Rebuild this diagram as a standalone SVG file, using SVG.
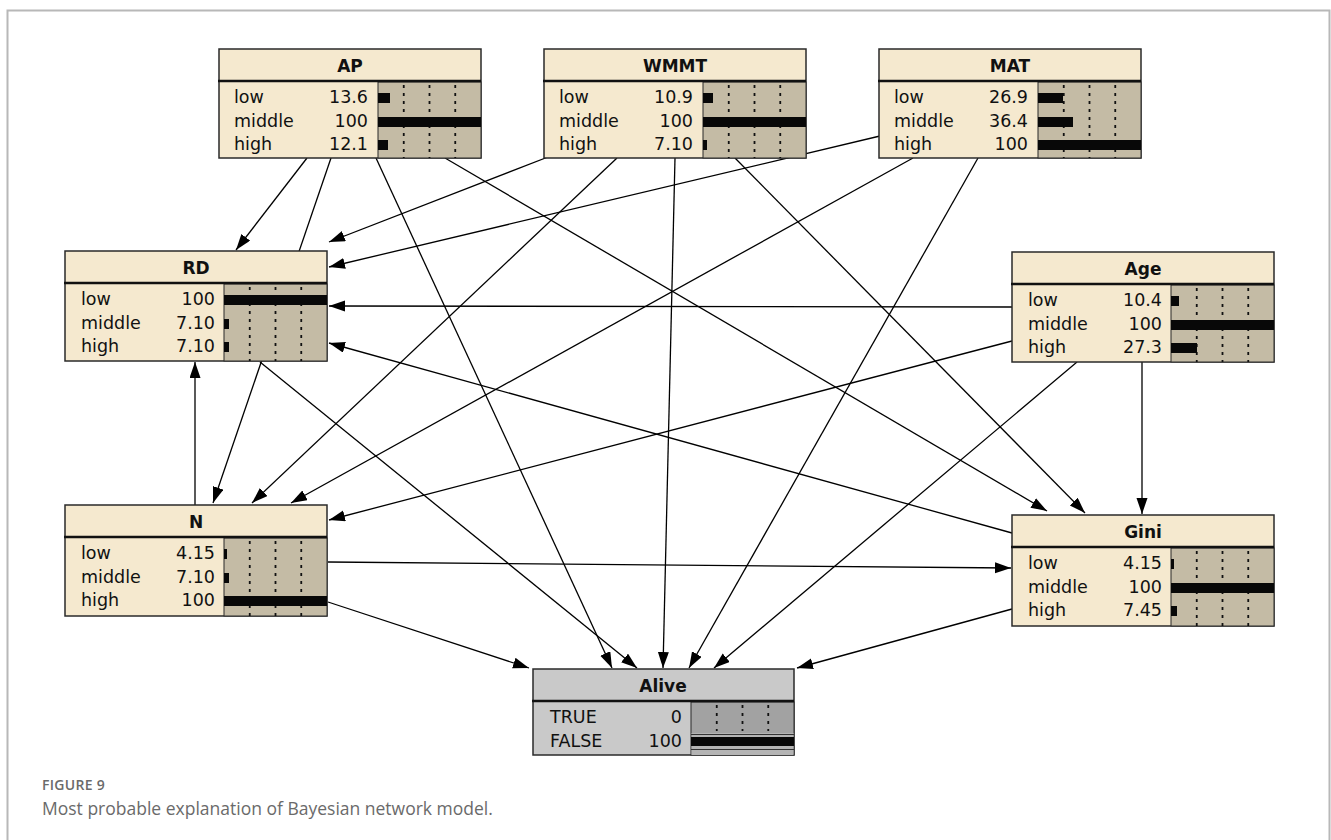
<svg xmlns="http://www.w3.org/2000/svg" width="1331" height="840" viewBox="0 0 1331 840">
<defs>
<marker id="ah" markerUnits="userSpaceOnUse" markerWidth="17" markerHeight="12" refX="16" refY="5.5" orient="auto">
<path d="M0,0 L16,5.5 L0,11 Z" fill="#000"/>
</marker>
<style>
.frame{fill:none;stroke:#b8b8b8;stroke-width:2}
.box{fill:#f5e9cf;stroke:#2a2a2a;stroke-width:1.5}
.gbox{fill:#c9c9c9;stroke:#2a2a2a;stroke-width:1.5}
.div{stroke:#111;stroke-width:2.5}
.barbg{fill:#c4bba5;stroke:#2a2a2a;stroke-width:1}
.gbarbg{fill:#a2a2a2;stroke:#2a2a2a;stroke-width:1}
.tick{stroke:#111;stroke-width:1.8;stroke-dasharray:3 5}
.bar{fill:#080808}
.t{font-family:"DejaVu Sans",sans-serif;font-size:17.5px;fill:#111}
.tt{font-family:"DejaVu Sans",sans-serif;font-size:17px;font-weight:bold;fill:#111;text-anchor:middle}
.v{text-anchor:end}
.edge{stroke:#000;stroke-width:1.3;fill:none;marker-end:url(#ah)}
.cap1{font-family:"Open Sans",sans-serif;font-size:14px;font-weight:600;fill:#6a6a6a;letter-spacing:0.3px}
.cap2{font-family:"Open Sans",sans-serif;font-size:17.5px;fill:#6a6a6a}
</style>
</defs>
<rect width="1331" height="840" fill="#fff"/>
<path class="frame" d="M7.5,840 L7.5,10.5 L1329.5,10.5 L1329.5,840"/>

<g id="connectors">
<path class="edge" d="M307,158 L236,250"/>
<path class="edge" d="M331,158 L213,503"/>
<path class="edge" d="M376,158 L612,668"/>
<path class="edge" d="M445,158 L1047,511"/>
<path class="edge" d="M548,157 L329,242"/>
<path class="edge" d="M617,158 L252,503"/>
<path class="edge" d="M675,158 L663,668"/>
<path class="edge" d="M735,158 L1085,513"/>
<path class="edge" d="M880,136 L329,267"/>
<path class="edge" d="M913,158 L291,503"/>
<path class="edge" d="M978,158 L689,668"/>
<path class="edge" d="M1012,307 L329,306"/>
<path class="edge" d="M1012,341 L329,520"/>
<path class="edge" d="M1077,362 L714,668"/>
<path class="edge" d="M1142,362 L1142,514"/>
<path class="edge" d="M1012,533 L329,343"/>
<path class="edge" d="M260,362 L637,668"/>
<path class="edge" d="M195,505 L195,362"/>
<path class="edge" d="M328,562 L1011,568"/>
<path class="edge" d="M328,602 L529,668"/>
<path class="edge" d="M1012,609 L797,668"/>
</g>

<g id="node-AP" transform="translate(219,49)">
<rect class="box" x="0" y="0" width="262" height="109"/>
<rect class="barbg" x="159" y="33" width="103" height="76"/>
<line class="tick" x1="184.75" y1="36" x2="184.75" y2="109"/>
<line class="tick" x1="210.5" y1="36" x2="210.5" y2="109"/>
<line class="tick" x1="236.25" y1="36" x2="236.25" y2="109"/>
<rect class="bar" x="159" y="44" width="12" height="10"/>
<rect class="bar" x="159" y="68" width="103" height="10"/>
<rect class="bar" x="159" y="91" width="10" height="10"/>
<line class="div" x1="-1" y1="32" x2="262" y2="32"/>
<text class="tt" x="131" y="23">AP</text>
<text class="t" x="15" y="54">low</text><text class="t v" x="149" y="54">13.6</text>
<text class="t" x="15" y="78">middle</text><text class="t v" x="149" y="78">100</text>
<text class="t" x="15" y="101">high</text><text class="t v" x="149" y="101">12.1</text>
</g>

<g id="node-WMMT" transform="translate(544,49)">
<rect class="box" x="0" y="0" width="262" height="109"/>
<rect class="barbg" x="159" y="33" width="103" height="76"/>
<line class="tick" x1="184.75" y1="36" x2="184.75" y2="109"/>
<line class="tick" x1="210.5" y1="36" x2="210.5" y2="109"/>
<line class="tick" x1="236.25" y1="36" x2="236.25" y2="109"/>
<rect class="bar" x="159" y="44" width="10" height="10"/>
<rect class="bar" x="159" y="68" width="103" height="10"/>
<rect class="bar" x="159" y="91" width="4" height="10"/>
<line class="div" x1="-1" y1="32" x2="262" y2="32"/>
<text class="tt" x="131" y="23">WMMT</text>
<text class="t" x="15" y="54">low</text><text class="t v" x="149" y="54">10.9</text>
<text class="t" x="15" y="78">middle</text><text class="t v" x="149" y="78">100</text>
<text class="t" x="15" y="101">high</text><text class="t v" x="149" y="101">7.10</text>
</g>

<g id="node-MAT" transform="translate(879,49)">
<rect class="box" x="0" y="0" width="262" height="109"/>
<rect class="barbg" x="159" y="33" width="103" height="76"/>
<line class="tick" x1="184.75" y1="36" x2="184.75" y2="109"/>
<line class="tick" x1="210.5" y1="36" x2="210.5" y2="109"/>
<line class="tick" x1="236.25" y1="36" x2="236.25" y2="109"/>
<rect class="bar" x="159" y="44" width="25" height="10"/>
<rect class="bar" x="159" y="68" width="35" height="10"/>
<rect class="bar" x="159" y="91" width="103" height="10"/>
<line class="div" x1="-1" y1="32" x2="262" y2="32"/>
<text class="tt" x="131" y="23">MAT</text>
<text class="t" x="15" y="54">low</text><text class="t v" x="149" y="54">26.9</text>
<text class="t" x="15" y="78">middle</text><text class="t v" x="149" y="78">36.4</text>
<text class="t" x="15" y="101">high</text><text class="t v" x="149" y="101">100</text>
</g>

<g id="node-RD" transform="translate(65,251)">
<rect class="box" x="0" y="0" width="262" height="110"/>
<rect class="barbg" x="159" y="33" width="103" height="77"/>
<line class="tick" x1="184.75" y1="36" x2="184.75" y2="110"/>
<line class="tick" x1="210.5" y1="36" x2="210.5" y2="110"/>
<line class="tick" x1="236.25" y1="36" x2="236.25" y2="110"/>
<rect class="bar" x="159" y="44" width="103" height="10"/>
<rect class="bar" x="159" y="68" width="5" height="10"/>
<rect class="bar" x="159" y="91" width="5" height="10"/>
<line class="div" x1="-1" y1="32" x2="262" y2="32"/>
<text class="tt" x="131" y="23">RD</text>
<text class="t" x="16" y="54">low</text><text class="t v" x="150" y="54">100</text>
<text class="t" x="16" y="78">middle</text><text class="t v" x="150" y="78">7.10</text>
<text class="t" x="16" y="101">high</text><text class="t v" x="150" y="101">7.10</text>
</g>

<g id="node-Age" transform="translate(1012,252)">
<rect class="box" x="0" y="0" width="262" height="110"/>
<rect class="barbg" x="159" y="33" width="103" height="77"/>
<line class="tick" x1="184.75" y1="36" x2="184.75" y2="110"/>
<line class="tick" x1="210.5" y1="36" x2="210.5" y2="110"/>
<line class="tick" x1="236.25" y1="36" x2="236.25" y2="110"/>
<rect class="bar" x="159" y="44" width="8" height="10"/>
<rect class="bar" x="159" y="68" width="103" height="10"/>
<rect class="bar" x="159" y="91" width="26" height="10"/>
<line class="div" x1="-1" y1="32" x2="262" y2="32"/>
<text class="tt" x="131" y="23">Age</text>
<text class="t" x="16" y="54">low</text><text class="t v" x="150" y="54">10.4</text>
<text class="t" x="16" y="78">middle</text><text class="t v" x="150" y="78">100</text>
<text class="t" x="16" y="101">high</text><text class="t v" x="150" y="101">27.3</text>
</g>

<g id="node-N" transform="translate(65,505)">
<rect class="box" x="0" y="0" width="262" height="111"/>
<rect class="barbg" x="159" y="33" width="103" height="78"/>
<line class="tick" x1="184.75" y1="36" x2="184.75" y2="111"/>
<line class="tick" x1="210.5" y1="36" x2="210.5" y2="111"/>
<line class="tick" x1="236.25" y1="36" x2="236.25" y2="111"/>
<rect class="bar" x="159" y="44" width="3" height="10"/>
<rect class="bar" x="159" y="68" width="5" height="10"/>
<rect class="bar" x="159" y="91" width="103" height="10"/>
<line class="div" x1="-1" y1="32" x2="262" y2="32"/>
<text class="tt" x="131" y="23">N</text>
<text class="t" x="16" y="54">low</text><text class="t v" x="150" y="54">4.15</text>
<text class="t" x="16" y="78">middle</text><text class="t v" x="150" y="78">7.10</text>
<text class="t" x="16" y="101">high</text><text class="t v" x="150" y="101">100</text>
</g>

<g id="node-Gini" transform="translate(1012,515)">
<rect class="box" x="0" y="0" width="262" height="111"/>
<rect class="barbg" x="159" y="33" width="103" height="78"/>
<line class="tick" x1="184.75" y1="36" x2="184.75" y2="111"/>
<line class="tick" x1="210.5" y1="36" x2="210.5" y2="111"/>
<line class="tick" x1="236.25" y1="36" x2="236.25" y2="111"/>
<rect class="bar" x="159" y="44" width="3" height="10"/>
<rect class="bar" x="159" y="68" width="103" height="10"/>
<rect class="bar" x="159" y="91" width="6" height="10"/>
<line class="div" x1="-1" y1="32" x2="262" y2="32"/>
<text class="tt" x="131" y="23">Gini</text>
<text class="t" x="16" y="54">low</text><text class="t v" x="150" y="54">4.15</text>
<text class="t" x="16" y="78">middle</text><text class="t v" x="150" y="78">100</text>
<text class="t" x="16" y="101">high</text><text class="t v" x="150" y="101">7.45</text>
</g>

<g id="node-Alive" transform="translate(533,669)">
<rect class="gbox" x="0" y="0" width="261" height="86"/>
<rect class="gbarbg" x="158" y="33" width="103" height="53"/>
<line class="tick" x1="183.75" y1="36" x2="183.75" y2="62"/>
<line class="tick" x1="209.5" y1="36" x2="209.5" y2="62"/>
<line class="tick" x1="235.25" y1="36" x2="235.25" y2="62"/>
<rect x="158.5" y="64" width="102" height="22" fill="#b4b4b4"/>
<line x1="158" y1="65.5" x2="261" y2="65.5" stroke="#333" stroke-width="1"/>
<rect class="bar" x="158" y="68" width="103" height="9"/>
<line x1="158" y1="80.5" x2="261" y2="80.5" stroke="#333" stroke-width="1"/>
<line class="div" x1="-1" y1="32" x2="261" y2="32"/>
<text class="tt" x="130" y="23">Alive</text>
<text class="t" x="17" y="54">TRUE</text><text class="t v" x="149" y="54">0</text>
<text class="t" x="17" y="78">FALSE</text><text class="t v" x="149" y="78">100</text>
</g>

<g id="caption">
<text class="cap1" x="42" y="790">FIGURE 9</text>
<text class="cap2" x="42" y="815">Most probable explanation of Bayesian network model.</text>
</g>
</svg>
